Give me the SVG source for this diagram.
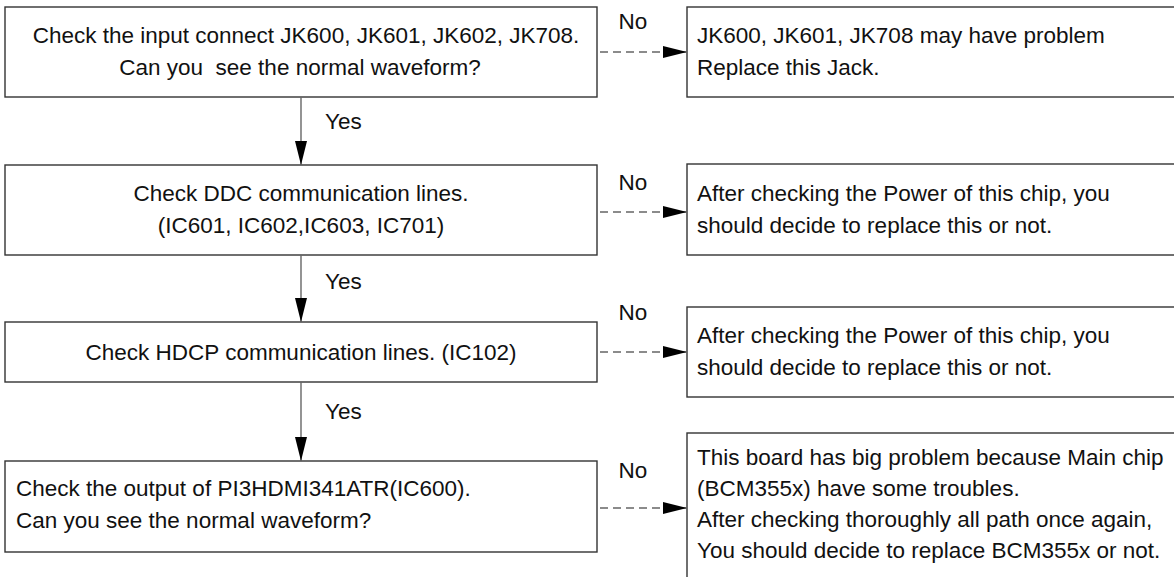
<svg xmlns="http://www.w3.org/2000/svg" width="1174" height="577" viewBox="0 0 1174 577">
  <defs>
    <style>
      .box { fill: #ffffff; stroke: #333333; stroke-width: 1.4; }
      .t { font-family: "Liberation Sans", Arial, Helvetica, sans-serif; font-size: 22.5px; fill: #111111; }
      .c { text-anchor: middle; }
      .yes { stroke: #666666; stroke-width: 1.4; fill: none; }
      .no { stroke: #666666; stroke-width: 1.4; fill: none; stroke-dasharray: 8 5; }
    </style>
    <marker id="head" viewBox="0 0 24 12" refX="24" refY="6" markerWidth="24" markerHeight="12" markerUnits="userSpaceOnUse" orient="auto">
      <path d="M0,0 L24,6 L0,12 Z" fill="#000000"/>
    </marker>
  </defs>
  <rect width="1174" height="577" fill="#ffffff"/>

  <!-- step 1: input connectors -->
  <g id="step1">
    <rect class="box" x="5" y="7" width="592" height="90"/>
    <text class="t c" x="306" y="43">Check the input connect JK600, JK601, JK602, JK708.</text>
    <text class="t c" x="300" y="75" xml:space="preserve">Can you  see the normal waveform?</text>
  </g>
  <g id="fix1">
    <rect class="box" x="687" y="7" width="500" height="90"/>
    <text class="t" x="697" y="43">JK600, JK601, JK708 may have problem</text>
    <text class="t" x="697" y="75">Replace this Jack.</text>
  </g>

  <!-- step 2: DDC lines -->
  <g id="step2">
    <rect class="box" x="5" y="165" width="592" height="90"/>
    <text class="t c" x="301" y="201">Check DDC communication lines.</text>
    <text class="t c" x="301" y="233">(IC601, IC602,IC603, IC701)</text>
  </g>
  <g id="fix2">
    <rect class="box" x="687" y="164" width="500" height="91"/>
    <text class="t" x="697" y="201">After checking the Power of this chip, you</text>
    <text class="t" x="697" y="233">should decide to replace this or not.</text>
  </g>

  <!-- step 3: HDCP lines -->
  <g id="step3">
    <rect class="box" x="5" y="322" width="592" height="60"/>
    <text class="t c" x="301" y="360">Check HDCP communication lines. (IC102)</text>
  </g>
  <g id="fix3">
    <rect class="box" x="687" y="307" width="500" height="90"/>
    <text class="t" x="697" y="343">After checking the Power of this chip, you</text>
    <text class="t" x="697" y="375">should decide to replace this or not.</text>
  </g>

  <!-- step 4: output of the HDMI switch -->
  <g id="step4">
    <rect class="box" x="5" y="461" width="592" height="91"/>
    <text class="t" x="16" y="496">Check the output of PI3HDMI341ATR(IC600).</text>
    <text class="t" x="16" y="528">Can you see the normal waveform?</text>
  </g>
  <g id="fix4">
    <rect class="box" x="687" y="433" width="500" height="170"/>
    <text class="t" x="697" y="465">This board has big problem because Main chip</text>
    <text class="t" x="697" y="496">(BCM355x) have some troubles.</text>
    <text class="t" x="697" y="527">After checking thoroughly all path once again,</text>
    <text class="t" x="697" y="558">You should decide to replace BCM355x or not.</text>
  </g>

  <!-- connectors -->
  <g id="connectors">
    <line class="yes" x1="301" y1="97" x2="301" y2="165" marker-end="url(#head)"/>
    <line class="yes" x1="301" y1="255" x2="301" y2="322" marker-end="url(#head)"/>
    <line class="yes" x1="301" y1="382" x2="301" y2="461" marker-end="url(#head)"/>
    <line class="no" x1="600" y1="52" x2="687" y2="52" marker-end="url(#head)"/>
    <line class="no" x1="600" y1="212" x2="687" y2="212" marker-end="url(#head)"/>
    <line class="no" x1="600" y1="352" x2="687" y2="352" marker-end="url(#head)"/>
    <line class="no" x1="600" y1="508" x2="687" y2="508" marker-end="url(#head)"/>
    <text class="t" x="325" y="129">Yes</text>
    <text class="t" x="325" y="289">Yes</text>
    <text class="t" x="325" y="419">Yes</text>
    <text class="t c" x="633" y="29">No</text>
    <text class="t c" x="633" y="190">No</text>
    <text class="t c" x="633" y="320">No</text>
    <text class="t c" x="633" y="478">No</text>
  </g>
</svg>
